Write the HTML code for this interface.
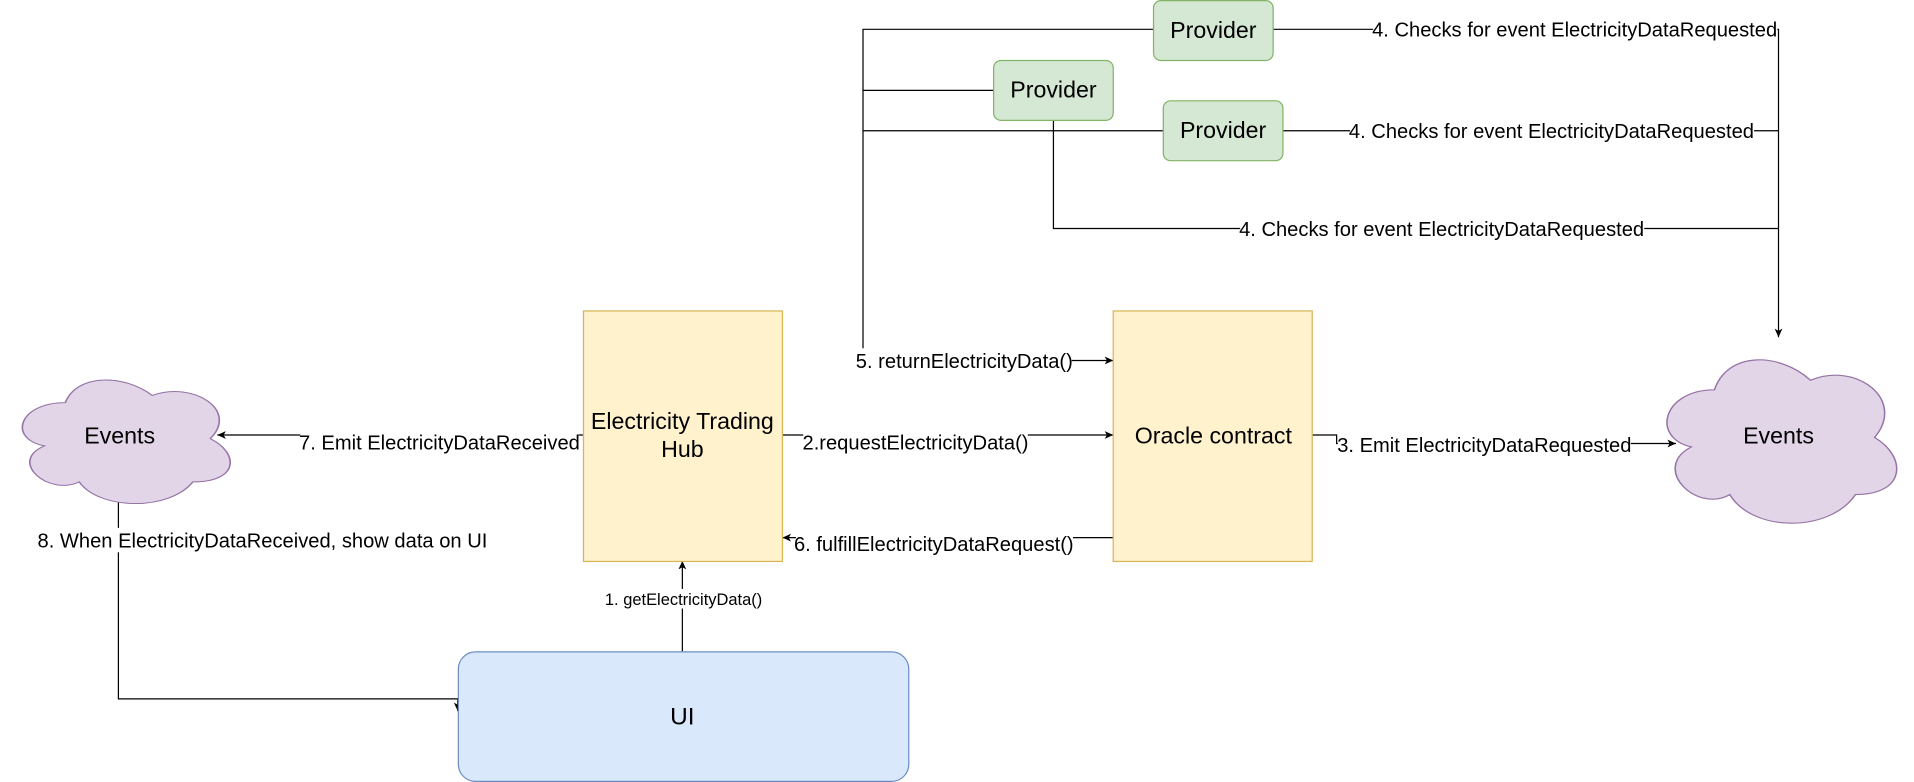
<!DOCTYPE html>
<html><head><meta charset="utf-8"><style>
html,body{margin:0;padding:0;background:#fff;width:1914px;height:782px;overflow:hidden}
svg{display:block}
text{font-family:"Liberation Sans",Arial,sans-serif;fill:#000}
</style></head><body>
<svg width="1914" height="782" viewBox="0 0 1568 640" preserveAspectRatio="none">
<defs>
<marker id="a" markerWidth="8" markerHeight="8" refX="7" refY="4" orient="auto" markerUnits="userSpaceOnUse">
<path d="M0,0.8 L7,4 L0,7.2 L1.8,4 Z" fill="#000"/></marker>
<path id="cloud" d="M0.25,0.25 C0.05,0.25 0,0.5 0.16,0.55 C0,0.66 0.18,0.9 0.31,0.8 C0.4,1 0.7,1 0.8,0.8 C1,0.8 1,0.6 0.875,0.5 C1,0.3 0.8,0.1 0.625,0.2 C0.5,0.05 0.3,0.05 0.25,0.25 Z"/>
</defs>
<g fill="none" stroke="#000" stroke-width="1">
<path d="M707,286 V24 H945 M707,74 H814 M707,107 H953"/>
<path d="M707,295 H912" marker-end="url(#a)"/>
<path d="M1043,24 H1457 V276" marker-end="url(#a)"/>
<path d="M1051,107 H1457"/>
<path d="M863,98 V187 H1457"/>
<path d="M641,356 H912" marker-end="url(#a)"/>
<path d="M912,440 H641" marker-end="url(#a)"/>
<path d="M1075,356 H1095 V363 H1373" marker-end="url(#a)"/>
<path d="M478,356 H178" marker-end="url(#a)"/>
<path d="M559,533 V459" marker-end="url(#a)"/>
<path d="M97,408 V572 H375 V582" marker-end="url(#a)"/>
</g>
<rect x="945" y="0.5" width="98" height="49" rx="6" fill="#d5e8d4" stroke="#82b366"/>
<rect x="814" y="49.5" width="98" height="49" rx="6" fill="#d5e8d4" stroke="#82b366"/>
<rect x="953" y="82.5" width="98" height="49" rx="6" fill="#d5e8d4" stroke="#82b366"/>
<rect x="478" y="254.5" width="163" height="205" fill="#fff2cc" stroke="#d6b656"/>
<rect x="912" y="254.5" width="163" height="205" fill="#fff2cc" stroke="#d6b656"/>
<rect x="375.5" y="533.5" width="369" height="106" rx="14" fill="#dae8fc" stroke="#6c8ebf"/>
<use href="#cloud" transform="translate(6,300) scale(190,118)" fill="#e1d5e7" stroke="#9673a6" stroke-width="0.007"/>
<use href="#cloud" transform="translate(1352,280) scale(210,156)" fill="#e1d5e7" stroke="#9673a6" stroke-width="0.006"/>
<g font-size="19" text-anchor="middle">
<text x="994" y="31">Provider</text>
<text x="863" y="80">Provider</text>
<text x="1002" y="113">Provider</text>
<text x="559" y="351">Electricity Trading</text>
<text x="559" y="374">Hub</text>
<text x="994" y="363">Oracle contract</text>
<text x="559" y="593" font-size="20">UI</text>
<text x="98" y="363">Events</text>
<text x="1457" y="363">Events</text>
</g>
<g font-size="16.5" text-anchor="middle">
<rect x="1125" y="14" width="331" height="20" fill="#fff"/>
<text x="1290" y="30">4. Checks for event ElectricityDataRequested</text>
<rect x="1106" y="97" width="331" height="20" fill="#fff"/>
<text x="1271" y="113">4. Checks for event ElectricityDataRequested</text>
<rect x="1016" y="177" width="331" height="20" fill="#fff"/>
<text x="1181" y="193">4. Checks for event ElectricityDataRequested</text>
<rect x="701" y="285" width="177" height="20" fill="#fff"/>
<text x="790" y="301">5. returnElectricityData()</text>
<rect x="658" y="352" width="184" height="20" fill="#fff"/>
<text x="750" y="368">2.requestElectricityData()</text>
<rect x="652" y="435" width="227" height="20" fill="#fff"/>
<text x="765" y="451">6. fulfillElectricityDataRequest()</text>
<rect x="1096" y="354" width="240" height="20" fill="#fff"/>
<text x="1216" y="370">3. Emit ElectricityDataRequested</text>
<rect x="246" y="352" width="228" height="20" fill="#fff"/>
<text x="360" y="368">7. Emit ElectricityDataReceived</text>
<rect x="32" y="432" width="366" height="20" fill="#fff"/>
<text x="215" y="448">8. When ElectricityDataReceived, show data on UI</text>
<rect x="493" y="482" width="134" height="16" fill="#fff"/>
<text x="560" y="495" font-size="13.5">1. getElectricityData()</text>
</g>
</svg>
</body></html>
